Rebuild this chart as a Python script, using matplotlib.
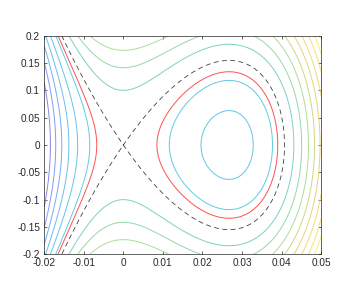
import numpy as np
import matplotlib
matplotlib.use("Agg")
import matplotlib.pyplot as plt
from matplotlib.colors import LinearSegmentedColormap, Normalize

plt.rcParams['font.family'] = ['Liberation Sans', 'DejaVu Sans']
plt.rcParams['axes.unicode_minus'] = False
plt.rcParams['lines.scale_dashes'] = False

# --- measured data (read from the reference) ---
# positions along y = 0 where the potential V(x) takes the contour values
cross_x = [-0.01841, -0.01715, -0.01563, -0.01379, -0.01151, -0.00848,
           0.01161, 0.01945, 0.0262, 0.03278, 0.03777, 0.0407,
           0.04308, 0.04493, 0.04695, 0.04855, 0.04956]
cross_v = [-0.030, -0.025, -0.020, -0.015, -0.010, -0.005,
           -0.005, -0.010, -0.012, -0.010, -0.005, 0.0,
           0.005, 0.010, 0.015, 0.020, 0.025]

contour_levels = [-0.030, -0.025, -0.020, -0.015, -0.010, -0.005,
                  0.005, 0.010, 0.015, 0.020, 0.025, 0.030, 0.035, 0.040, 0.045]
red_level = -0.003
separatrix_level = 0.0

x_ticks = [-0.02, -0.01, 0, 0.01, 0.02, 0.03, 0.04, 0.05]
x_ticklabels = ['-0.02', '-0.01', '0', '0.01', '0.02', '0.03', '0.04', '0.05']
y_ticks = [-0.2, -0.15, -0.1, -0.05, 0, 0.05, 0.1, 0.15, 0.2]
y_ticklabels = ['-0.2', '-0.15', '-0.1', '-0.05', '0', '0.05', '0.1', '0.15', '0.2']

# --- field: H = y^2/2 + V(x), V fitted to the measured crossings ---
cx = np.array(cross_x)
A = np.column_stack([cx**2, cx**3, cx**4, cx**5])
coef, *_ = np.linalg.lstsq(A, np.array(cross_v), rcond=None)

xs = np.linspace(-0.02, 0.05, 351)
ys = np.linspace(-0.2, 0.2, 201)
X, Y = np.meshgrid(xs, ys)
V = coef[0]*X**2 + coef[1]*X**3 + coef[2]*X**4 + coef[3]*X**5
H = 0.5*Y**2 + V

# parula-like colormap, lightened to match the thin, pale lines
anchors = [
    (0.000, (0.2422, 0.1504, 0.6603)),
    (0.125, (0.2780, 0.3556, 0.9777)),
    (0.250, (0.1080, 0.5950, 0.8900)),
    (0.375, (0.0265, 0.6900, 0.8230)),
    (0.500, (0.1986, 0.7214, 0.6310)),
    (0.625, (0.5044, 0.7993, 0.3480)),
    (0.750, (0.8634, 0.7406, 0.1596)),
    (0.875, (0.9892, 0.8136, 0.1885)),
    (1.000, (0.9769, 0.9839, 0.0805)),
]
fade = 0.35
parula = LinearSegmentedColormap.from_list(
    'parula_light',
    [(p, tuple(c + (1 - c) * fade for c in rgb)) for p, rgb in anchors])

fig = plt.figure(figsize=(3.46, 2.88), dpi=100)
ax = fig.add_axes([0.128, 0.117, 0.800, 0.759])

norm = Normalize(H.min(), H.max())
ax.contour(X, Y, H, levels=contour_levels, cmap=parula, norm=norm,
           linewidths=0.7, linestyles='solid')
ax.contour(X, Y, H, levels=[red_level], colors=['#ff5050'], linewidths=0.7,
           linestyles='solid')
ax.contour(X, Y, H, levels=[separatrix_level], colors=['#404040'], linewidths=0.6,
           linestyles=[(0, (3.5, 2.5))])

ax.set_xlim(-0.02, 0.05)
ax.set_ylim(-0.2, 0.2)
ax.set_xticks(x_ticks)
ax.set_xticklabels(x_ticklabels)
ax.set_yticks(y_ticks)
ax.set_yticklabels(y_ticklabels)
gray = (0.15, 0.15, 0.15)
ax.tick_params(direction='in', length=2.5, width=0.5, top=True, right=True,
               labelsize=7.2, colors=gray, pad=3)
for s in ax.spines.values():
    s.set_color(gray)
    s.set_linewidth(0.5)

fig.savefig('out.png', dpi=100)
